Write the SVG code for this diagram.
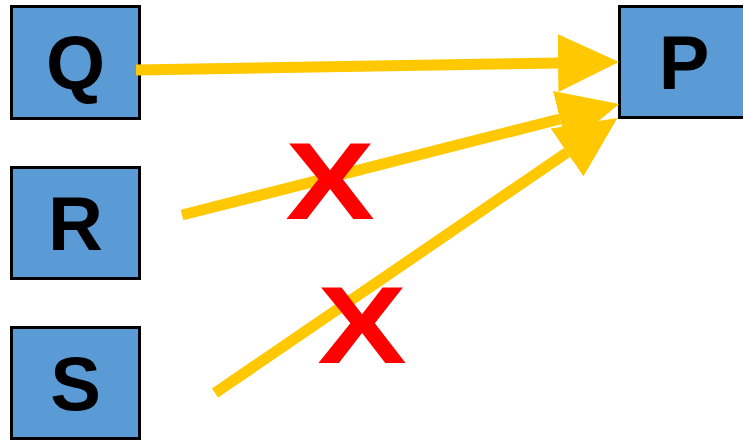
<svg xmlns="http://www.w3.org/2000/svg" width="743" height="442" viewBox="0 0 743 442">
<style>
.box{fill:#5B9BD5;stroke:#000;stroke-width:3}
.lbl{font-family:"Liberation Sans",Arial,sans-serif;font-weight:bold;font-size:76px;fill:#000;text-anchor:middle}
.conn{stroke:#FFC800;stroke-width:11;fill:none}
.x{font-family:"Liberation Sans",Arial,sans-serif;font-weight:bold;font-size:110px;fill:#FF0000;text-anchor:middle}
</style>
<defs>
<marker id="ah" viewBox="0 0 61 58" refX="0" refY="29" markerWidth="61" markerHeight="58" markerUnits="userSpaceOnUse" orient="auto">
<path d="M0,0 L61,29 L0,58 Z" fill="#FFC800"/>
</marker>
</defs>
<rect width="743" height="442" fill="#fff"/>
<g id="Q"><rect class="box" x="11.5" y="6.5" width="128" height="112"/><text class="lbl" x="75.5" y="89">Q</text></g>
<g id="R"><rect class="box" x="11.5" y="167.5" width="128" height="111"/><text class="lbl" x="75.5" y="250">R</text></g>
<g id="S"><rect class="box" x="11.5" y="327.5" width="128" height="111"/><text class="lbl" x="75.5" y="410">S</text></g>
<g id="P"><rect class="box" x="619.5" y="6.5" width="126" height="111"/><text class="lbl" x="684" y="89">P</text></g>
<g id="connectors">
<line class="conn" x1="136" y1="70" x2="558" y2="63" marker-end="url(#ah)"/>
<line class="conn" x1="182" y1="215" x2="560" y2="119" marker-end="url(#ah)"/>
<line class="conn" x1="215" y1="393" x2="567" y2="152.5" marker-end="url(#ah)"/>
</g>
<text class="x" transform="translate(330,219) scale(1.22,1)">X</text>
<text class="x" transform="translate(362,363) scale(1.22,1)">X</text>
</svg>
